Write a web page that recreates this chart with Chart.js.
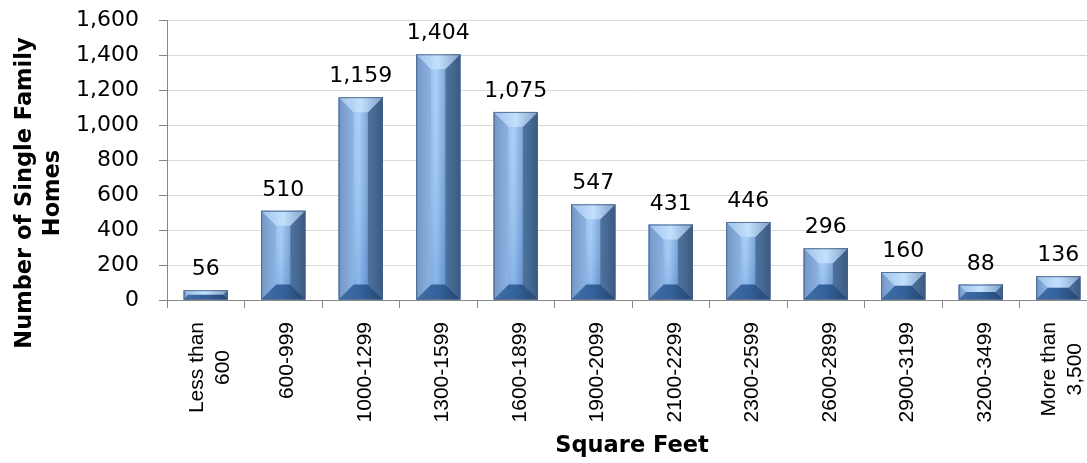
<!DOCTYPE html>
<html>
<head>
<meta charset="utf-8">
<script src="https://cdn.jsdelivr.net/npm/chart.js@4/dist/chart.umd.min.js"></script>
<style>
  html, body { margin: 0; padding: 0; background: #fff; overflow: hidden; }
  #wrap { width: 1097px; height: 463px; }
</style>
</head>
<body>
<div id="wrap"><canvas id="homes"></canvas></div>
<script>
// Size ranges (square feet)
var categories = [
    ['Less than', '600'], '600-999', '1000-1299', '1300-1599', '1600-1899', '1900-2099',
    '2100-2299', '2300-2599', '2600-2899', '2900-3199', '3200-3499', ['More than', '3,500']
];
// Number of single family homes in each range
var homes = [56, 510, 1159, 1404, 1075, 547, 431, 446, 296, 160, 88, 136];
var yTicks = [0, 200, 400, 600, 800, 1000, 1200, 1400, 1600];

var labelFont = 'DejaVu Sans';

function fmt(v) { return v.toLocaleString('en-US'); }

function poly(ctx, pts, fill) {
    ctx.beginPath();
    ctx.moveTo(pts[0][0], pts[0][1]);
    for (var i = 1; i < pts.length; i++) ctx.lineTo(pts[i][0], pts[i][1]);
    ctx.closePath();
    ctx.fillStyle = fill;
    ctx.fill();
}

// bevelled bar faces, drawn over the plain bars
var bevel = {
    id: 'bevel',
    afterDatasetsDraw: function (chart) {
        var ctx = chart.ctx;
        chart.getDatasetMeta(0).data.forEach(function (bar) {
            var p = bar.getProps(['x', 'y', 'base', 'width'], true);
            var l = p.x - p.width / 2, r = p.x + p.width / 2;
            var t = Math.min(p.y, p.base), btm = Math.max(p.y, p.base);
            var h = btm - t;
            var b = Math.min(15, h / 2, p.width / 2);
            ctx.save();

            var body = ctx.createLinearGradient(l, 0, r, 0);
            body.addColorStop(0, '#6f9bd2');
            body.addColorStop(0.45, '#a4cdf8');
            body.addColorStop(0.7, '#6b98cf');
            body.addColorStop(1, '#3e6a9f');
            poly(ctx, [[l, t], [r, t], [r, btm], [l, btm]], body);

            // slightly deeper blue towards the base
            var shade = ctx.createLinearGradient(0, t, 0, btm);
            shade.addColorStop(0, 'rgba(255, 255, 255, 0.08)');
            shade.addColorStop(1, 'rgba(20, 80, 170, 0.22)');
            poly(ctx, [[l, t], [r, t], [r, btm], [l, btm]], shade);

            var lf = ctx.createLinearGradient(l, 0, l + b, 0);
            lf.addColorStop(0, '#7397c6');
            lf.addColorStop(1, '#8db3e2');
            poly(ctx, [[l, t], [l + b, t + b], [l + b, btm - b], [l, btm]], lf);

            var rf = ctx.createLinearGradient(r - b, 0, r, 0);
            rf.addColorStop(0, '#50749f');
            rf.addColorStop(1, '#3a5a82');
            poly(ctx, [[r, t], [r - b, t + b], [r - b, btm - b], [r, btm]], rf);

            var tf = ctx.createLinearGradient(l, 0, r, 0);
            tf.addColorStop(0, '#9fc1ea');
            tf.addColorStop(0.5, '#c3e0fd');
            tf.addColorStop(1, '#7f9fc7');
            poly(ctx, [[l, t], [r, t], [r - b, t + b], [l + b, t + b]], tf);

            var bf = ctx.createLinearGradient(l, 0, r, 0);
            bf.addColorStop(0, '#4070a9');
            bf.addColorStop(0.5, '#34619b');
            bf.addColorStop(1, '#24456f');
            poly(ctx, [[l, btm], [r, btm], [r - b, btm - b], [l + b, btm - b]], bf);

            ctx.strokeStyle = 'rgba(70, 95, 130, 0.85)';
            ctx.lineWidth = 1;
            ctx.strokeRect(l + 0.5, t + 0.5, p.width - 1, h - 1);
            ctx.restore();
        });
    }
};

// values above the bars, rotated category names with centred lines, y axis title
var labels = {
    id: 'labels',
    afterDraw: function (chart) {
        var ctx = chart.ctx;
        var xs = chart.scales.x;
        ctx.save();
        ctx.fillStyle = '#000';
        ctx.font = '22px "' + labelFont + '"';
        ctx.textAlign = 'center';
        ctx.textBaseline = 'alphabetic';
        chart.getDatasetMeta(0).data.forEach(function (bar, i) {
            ctx.fillText(fmt(homes[i]), bar.x, bar.y - 15);
        });

        ctx.font = '21px "Liberation Sans"';
        ctx.textBaseline = 'middle';
        var lh = 26;
        categories.forEach(function (c, i) {
            var lines = Array.isArray(c) ? c : [c];
            var w = Math.max.apply(null, lines.map(function (s) { return ctx.measureText(s).width; }));
            ctx.save();
            ctx.translate(xs.getPixelForValue(i) + 4, xs.top + 22);
            ctx.rotate(-Math.PI / 2);
            lines.forEach(function (s, k) {
                ctx.fillText(s, -w / 2, (k - (lines.length - 1) / 2) * lh);
            });
            ctx.restore();
        });

        ctx.font = 'bold 22.5px "' + labelFont + '"';
        ctx.translate(0, 193);
        ctx.rotate(-Math.PI / 2);
        ctx.fillText('Number of Single Family', 0, 25);
        ctx.fillText('Homes', 0, 53);
        ctx.restore();
    }
};

var data = {
    labels: categories,
    datasets: [{
        data: homes,
        backgroundColor: '#5b87bd',
        barPercentage: 0.57,
        categoryPercentage: 1
    }]
};

var options = {
    responsive: true,
    maintainAspectRatio: false,
    animation: false,
    layout: { padding: { top: 20, right: 0, bottom: 0, left: 0 } },
    plugins: {
        legend: { display: false },
        tooltip: { enabled: false }
    },
    scales: {
        x: {
            afterFit: function (scale) { scale.height = 163; },
            grid: {
                display: true,
                drawOnChartArea: false,
                offset: true,
                tickLength: 8,
                color: '#868686'
            },
            border: { color: '#868686' },
            ticks: { display: false },
            title: {
                display: true,
                text: 'Square Feet',
                color: '#000',
                font: { family: labelFont, size: 22.5, weight: 'bold' },
                padding: { top: 0, bottom: 3 }
            }
        },
        y: {
            min: 0,
            max: 1600,
            afterFit: function (scale) {
                scale.width = 167;
                scale.paddingTop = 0;
                scale.paddingBottom = 0;
            },
            afterBuildTicks: function (scale) {
                scale.ticks = yTicks.map(function (v) { return { value: v }; });
            },
            grid: {
                color: '#d9d9d9',
                tickColor: '#868686',
                tickLength: 8
            },
            border: { color: '#868686' },
            ticks: {
                padding: 20,
                color: '#000',
                font: { family: labelFont, size: 22 },
                callback: function (v) { return fmt(v); }
            }
        }
    }
};

var config = {
    type: 'bar',
    data: data,
    options: options,
    plugins: [bevel, labels]
};

var chart = new Chart(document.getElementById('homes').getContext('2d'), config);
</script>
</body>
</html>
